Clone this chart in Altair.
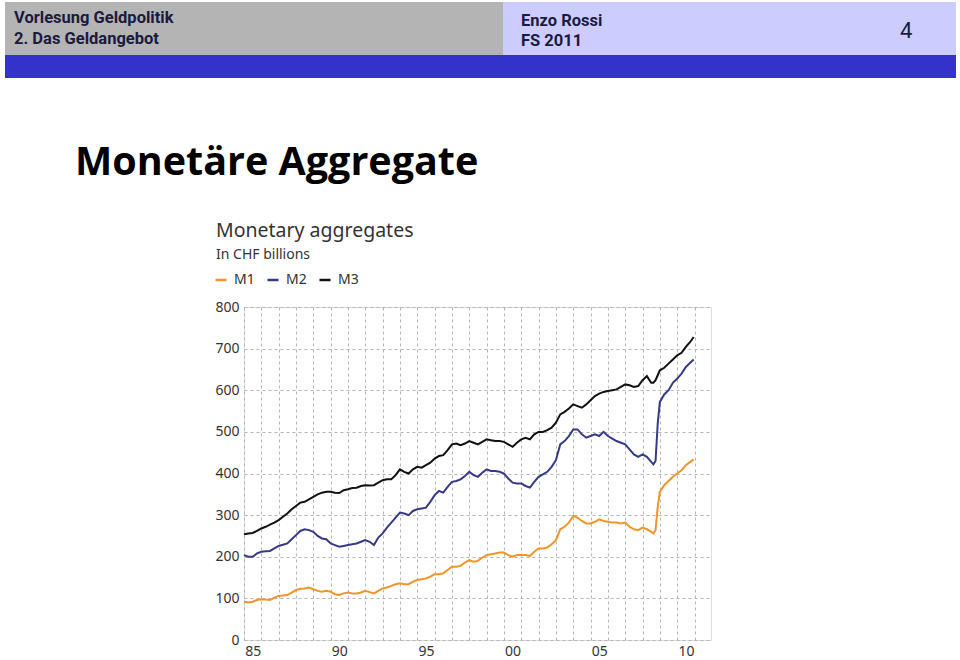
import altair as alt
import pandas as pd

# ---- data ----
quarters = [y + q for y in range(1985, 2009) for q in (0.0, 0.25, 0.5, 0.75)]
dates = [d for d in quarters if d <= 2008.5] + [2008.625, 2008.75, 2008.875,
         2009.0, 2009.25, 2009.5, 2009.75, 2010.0, 2010.25, 2010.5, 2010.75, 2010.95]

m3 = [254, 256, 257, 262, 268, 272, 277, 282, 288, 296, 304, 314,
      322, 330, 332, 338, 344, 350, 354, 356, 356, 354, 353, 360,
      362, 365, 366, 370, 372, 371, 372, 378, 384, 386, 386, 396,
      410, 404, 400, 410, 416, 414, 420, 426, 436, 442, 444, 456,
      470, 472, 468, 472, 478, 474, 470, 476, 482, 480, 478, 478,
      476, 470, 464, 474, 482, 486, 482, 494, 500, 500, 504, 510,
      522, 542, 548, 556, 566, 562, 558, 566, 576, 586, 592, 596,
      598, 600, 602, 608, 614, 612, 608, 610, 624, 634, 618,
      618, 624, 636, 648, 654, 664, 674, 684, 690, 704, 716, 728]

m2 = [204, 200, 200, 208, 212, 213, 214, 220, 226, 229, 232, 242,
      252, 262, 266, 264, 260, 250, 244, 242, 232, 228, 224, 226,
      228, 230, 232, 236, 240, 236, 228, 246, 256, 270, 282, 294,
      306, 304, 300, 310, 314, 316, 318, 332, 348, 358, 354, 368,
      380, 382, 386, 394, 404, 396, 392, 402, 410, 406, 406, 404,
      400, 388, 378, 376, 376, 370, 366, 380, 392, 398, 404, 416,
      432, 470, 478, 490, 506, 506, 494, 486, 490, 494, 490, 500,
      490, 484, 478, 474, 470, 458, 446, 440, 446, 440, 428,
      422, 430, 520, 572, 590, 600, 618, 628, 640, 656, 666, 674]

m1 = [92, 90, 92, 96, 98, 97, 96, 102, 106, 107, 108, 114,
      120, 123, 124, 126, 122, 118, 116, 118, 116, 110, 108, 112,
      114, 112, 112, 114, 118, 115, 112, 118, 124, 126, 130, 134,
      136, 134, 134, 140, 144, 146, 148, 152, 158, 158, 160, 168,
      176, 176, 178, 186, 192, 188, 190, 198, 204, 206, 208, 210,
      210, 204, 200, 204, 204, 204, 202, 212, 220, 220, 222, 230,
      240, 266, 272, 282, 298, 294, 286, 280, 280, 284, 290, 286,
      284, 282, 282, 280, 282, 272, 266, 264, 270, 266, 260,
      256, 264, 320, 356, 372, 382, 392, 400, 408, 420, 428, 434]

series_names = ["M1", "M2", "M3"]
series_colors = ["#f0952a", "#363a86", "#111111"]
x_ticks = list(range(1985, 2012))
y_ticks = list(range(0, 801, 100))

rows = []
for name, vals in zip(series_names, [m1, m2, m3]):
    for d, v in zip(dates, vals):
        rows.append({"date": d, "value": v, "series": name})
df = pd.DataFrame(rows)

FONT = "Noto Sans"
HFONT = "Roboto"
one = pd.DataFrame({"k": [0]})

lines = alt.Chart(df).mark_line(strokeWidth=2).encode(
    x=alt.X("date:Q", title=None,
            scale=alt.Scale(domain=[1985, 2011.95], nice=False, zero=False),
            axis=alt.Axis(values=x_ticks,
                          labelExpr="datum.value % 5 == 0 ? ((datum.value % 100) < 10 ? '0' : '') + (datum.value % 100) : ''",
                          labelOffset=8.7, labelFlush=False, labelOverlap=False,
                          tickSize=0, domain=False, grid=True, gridDash=[3, 3],
                          gridColor="#b5b5b5", labelFontSize=14, labelPadding=4,
                          labelColor="#333333", labelFont=FONT)),
    y=alt.Y("value:Q", title=None,
            scale=alt.Scale(domain=[0, 800], nice=False),
            axis=alt.Axis(values=y_ticks, tickSize=0, domain=False, grid=True,
                          gridDash=[3, 3], gridColor="#b5b5b5", labelFontSize=14,
                          labelPadding=5, labelColor="#333333", labelFont=FONT)),
    color=alt.Color("series:N",
                    scale=alt.Scale(domain=series_names, range=series_colors),
                    legend=alt.Legend(title=None, orient="none", legendX=-30, legendY=-34,
                                      direction="horizontal", symbolType="stroke",
                                      symbolSize=121, symbolStrokeWidth=2.5,
                                      labelFontSize=14, labelFont=FONT, labelColor="#333333",
                                      columnPadding=7, labelOffset=6)),
    detail="series:N",
)


def rect(x1, x2, y1, y2, color):
    return alt.Chart(one).mark_rect(color=color).encode(
        x=alt.value(x1), x2=alt.value(x2), y=alt.value(y1), y2=alt.value(y2))


def text(t, x, y, size, weight="normal", font=FONT, color="#000000"):
    return alt.Chart(one).mark_text(text=t, align="left", baseline="alphabetic",
                                    fontSize=size, fontWeight=weight, font=font,
                                    color=color).encode(x=alt.value(x), y=alt.value(y))


OX, OY = 244, 307  # plot origin on the page
hdr = [
    rect(5 - OX, 503 - OX, 2 - OY, 55 - OY, "#b4b4b4"),
    rect(503 - OX, 956 - OX, 2 - OY, 55 - OY, "#ccccff"),
    rect(5 - OX, 956 - OX, 55 - OY, 78 - OY, "#3333cc"),
    text("Vorlesung Geldpolitik", 14 - OX, 23 - OY, 16.5, "bold", HFONT, "#1a1a40"),
    text("2. Das Geldangebot", 14 - OX, 44 - OY, 16.5, "bold", HFONT, "#1a1a40"),
    text("Enzo Rossi", 521 - OX, 26 - OY, 16.5, "bold", HFONT, "#1a1a40"),
    text("FS 2011", 521 - OX, 46 - OY, 16.5, "bold", HFONT, "#1a1a40"),
    text("4", 900 - OX, 38 - OY, 22, "normal", HFONT, "#1a1a40"),
    text("Monetäre Aggregate", 75 - OX, 175 - OY, 39.5, "bold", "Open Sans", "#000000"),
    text("Monetary aggregates", 216 - OX, 237 - OY, 19.5, "normal", FONT, "#333333"),
    text("In CHF billions", 216 - OX, 259 - OY, 14, "normal", FONT, "#333333"),
]

chart = alt.layer(*hdr, lines).properties(
    width=467, height=333,
    padding={"left": OX, "top": OY, "right": 960 - OX - 467, "bottom": 660 - OY - 333},
    autosize=alt.AutoSizeParams(type="none"),
).configure_view(stroke="#9a9a9a", strokeWidth=1).configure(background="white")

chart.save("out.html", embed_options={"renderer": "svg", "actions": False})
